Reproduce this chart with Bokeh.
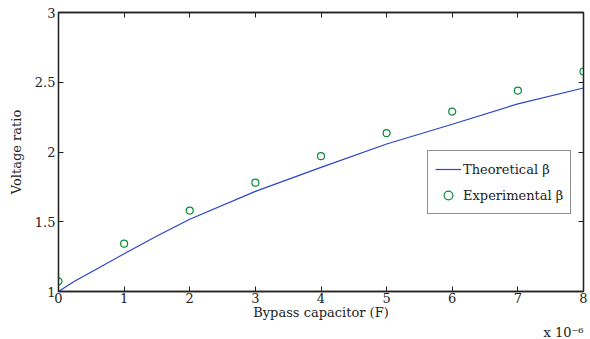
from bokeh.plotting import figure
from bokeh.models import Range1d, LinearAxis, FixedTicker, Legend, LegendItem, Title
from bokeh.embed import file_html
from bokeh.resources import INLINE

# Bypass capacitor in units of 1e-6 F
theory_x = [0, 0.25, 0.5, 1, 1.5, 2, 3, 4, 5, 6, 7, 8]
theory_y = [1.0, 1.075, 1.14, 1.27, 1.398, 1.518, 1.718, 1.89, 2.057, 2.199, 2.345, 2.459]
exp_x = [0, 1, 2, 3, 4, 5, 6, 7, 8]
exp_y = [1.073, 1.343, 1.58, 1.78, 1.97, 2.135, 2.29, 2.44, 2.577]
x_ticks = [0, 1, 2, 3, 4, 5, 6, 7, 8]
y_ticks = [1, 1.5, 2, 2.5, 3]
y_tick_labels = ["1", "1.5", "2", "2.5", "3"]

FONT = "DejaVu Serif"
INK = "#222222"

p = figure(width=590, height=339, output_backend="svg", toolbar_location=None,
           x_range=Range1d(0, 8), y_range=Range1d(1, 3),
           min_border_left=58, min_border_right=7, min_border_top=12, min_border_bottom=0)
p.background_fill_color = "white"
p.border_fill_color = "white"
p.grid.visible = False
p.outline_line_color = INK
p.outline_line_width = 1.3

def style_axis(ax):
    ax.axis_line_color = INK
    ax.axis_line_width = 1.3
    ax.major_tick_in = 5
    ax.major_tick_out = 0
    ax.minor_tick_line_color = None
    ax.major_tick_line_color = INK
    ax.major_label_text_font = FONT
    ax.major_label_text_font_size = "13px"
    ax.major_label_text_color = INK
    ax.major_label_standoff = 1

p.xaxis.ticker = FixedTicker(ticks=x_ticks)
p.yaxis.ticker = FixedTicker(ticks=y_ticks)
p.yaxis.major_label_overrides = {t: l for t, l in zip(y_ticks, y_tick_labels)}
style_axis(p.xaxis[0])
style_axis(p.yaxis[0])
p.yaxis.major_label_standoff = 3
p.xaxis.axis_label = "Bypass capacitor (F)"
p.yaxis.axis_label = "Voltage ratio"
for ax in (p.xaxis[0], p.yaxis[0]):
    ax.axis_label_text_font = FONT
    ax.axis_label_text_font_style = "normal"
    ax.axis_label_text_font_size = "13px"
    ax.axis_label_text_color = INK
p.xaxis.axis_label_standoff = -1
p.yaxis.axis_label_standoff = 8

top = LinearAxis(ticker=FixedTicker(ticks=x_ticks))
style_axis(top)
top.major_label_overrides = {t: "" for t in x_ticks}
top.major_label_standoff = 0
p.add_layout(top, "above")
right = LinearAxis(ticker=FixedTicker(ticks=y_ticks))
style_axis(right)
right.major_label_overrides = {t: "" for t in y_ticks}
right.major_label_standoff = 0
p.add_layout(right, "right")

r_line = p.line(theory_x, theory_y, line_color="#2a45c8", line_width=1.2)
r_pts = p.scatter(exp_x, exp_y, marker="circle", size=7, fill_color=None,
                  line_color="#0a8a3a", line_width=1.2)

legend = Legend(items=[LegendItem(label="Theoretical \u03b2", renderers=[r_line]),
                       LegendItem(label="Experimental \u03b2", renderers=[r_pts])],
                location=(369, 77))
legend.border_line_color = INK
legend.border_line_width = 1.2
legend.label_text_font = FONT
legend.label_text_font_size = "13px"
legend.label_text_color = INK
legend.glyph_width = 26
legend.glyph_height = 22
legend.spacing = 4
legend.padding = 7
legend.margin = 0
legend.label_standoff = 2
legend.background_fill_alpha = 1
p.add_layout(legend, "center")

p.add_layout(Title(text="x 10\u207b\u2076", align="right", text_font=FONT,
                   text_font_size="13px", text_font_style="normal",
                   text_color=INK, standoff=0, offset=0), "below")

open("out.html", "w").write(file_html(p, INLINE))
